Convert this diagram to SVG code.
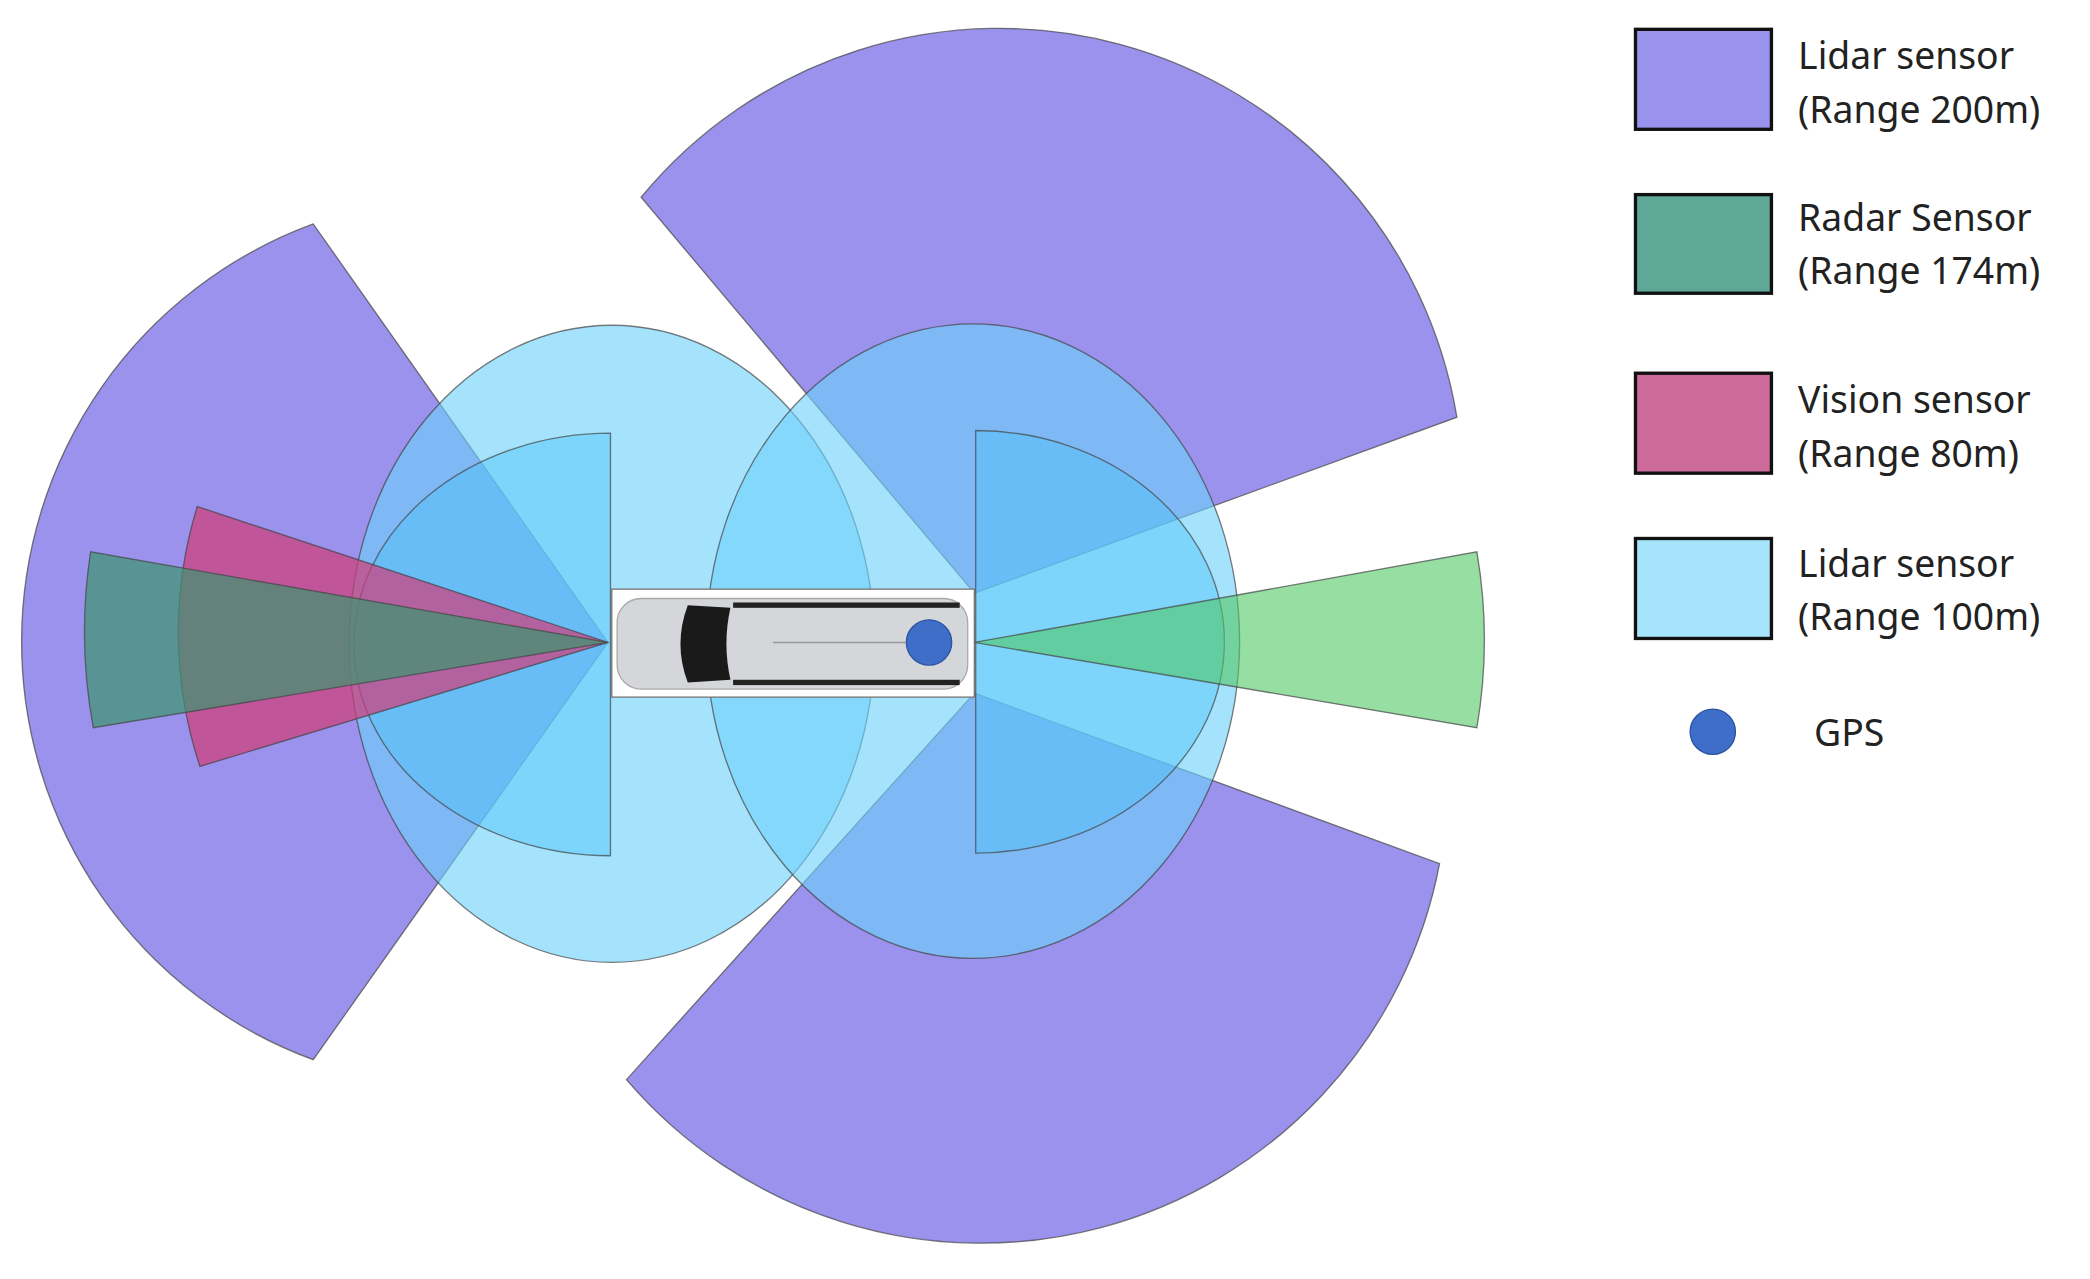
<svg xmlns="http://www.w3.org/2000/svg" width="2090" height="1279" viewBox="0 0 2090 1279">
<style>
.s{stroke:#444;stroke-width:1;stroke-opacity:0.7}
.pu{fill:rgb(120,110,230);fill-opacity:0.75}
.cy{fill:rgb(110,210,250);fill-opacity:0.62}
.cy2{fill:rgb(80,195,250);fill-opacity:0.45}
.rg{fill:rgb(60,150,110);fill-opacity:0.7}
.vr{fill:rgb(210,60,120);fill-opacity:0.7}
.gr{fill:rgb(80,200,100);fill-opacity:0.6}
.lt{font-family:"Noto Sans","Liberation Sans",sans-serif;font-size:28px;fill:#222}
.lb{stroke:#111;stroke-width:2.5}
</style>
<rect width="2090" height="1279" fill="#fff"/>
<g transform="scale(1.33291)">
<g id="coverage">
<path id="lidar200-left" class="pu s" d="M456,482 L235,168 A334 334 0 0 0 235,795 Z"/>
<path id="lidar200-top" class="pu s" d="M731,445 L481,148 A348 348 0 0 1 1093,313 Z"/>
<path id="lidar200-bottom" class="pu s" d="M731,520 L470,810 A350 350 0 0 0 1080,648 Z"/>
<ellipse id="lidar100-left" class="cy s" cx="459" cy="483" rx="197" ry="239"/>
<ellipse id="lidar100-right" class="cy s" cx="730" cy="481" rx="200" ry="238"/>
<path id="inner-left" class="cy2 s" d="M458,325 A192 158 0 0 0 458,642 Z"/>
<path id="inner-right" class="cy2 s" d="M732,323 A186 158 0 0 1 732,640 Z"/>
<path id="vision-left" class="vr s" d="M456,482 L148,380 A320 320 0 0 0 150,575 Z"/>
<path id="radar-left" class="rg s" d="M456,482 L68,414 A394 394 0 0 0 70,546 Z"/>
<path id="radar-right" class="gr s" d="M731,482 L1108,414 A390 390 0 0 1 1108,546 Z"/>
</g>
<g id="car">
<rect x="459" y="442" width="272" height="81" fill="#fff" stroke="#777" stroke-width="1"/>
<rect x="463" y="449" width="263" height="68" rx="18" fill="#d4d6da" stroke="#aaa"/>
<path d="M516,454 Q505,483 516,512 L548,510 Q542,483 548,456 Z" fill="#1a1a1a"/>
<rect x="550" y="452" width="170" height="4" fill="#222"/>
<rect x="550" y="510" width="170" height="4" fill="#222"/>
<line x1="580" y1="482" x2="680" y2="482" stroke="#999" stroke-width="1"/>
<circle cx="697" cy="482" r="17" fill="#3f6ec9" stroke="#2a55a0"/>
</g>
<g id="legend">
<rect class="lb" x="1227" y="22" width="102" height="75" fill="#9a93ee"/>
<text class="lt" x="1349" y="52">Lidar sensor</text>
<text class="lt" x="1349" y="92">(Range 200m)</text>
<rect class="lb" x="1227" y="146" width="102" height="74" fill="#5fa898"/>
<text class="lt" x="1349" y="173">Radar Sensor</text>
<text class="lt" x="1349" y="213">(Range 174m)</text>
<rect class="lb" x="1227" y="280" width="102" height="75" fill="#cc6a99"/>
<text class="lt" x="1349" y="310">Vision sensor</text>
<text class="lt" x="1349" y="350">(Range 80m)</text>
<rect class="lb" x="1227" y="404" width="102" height="75" fill="#a6e4fb"/>
<text class="lt" x="1349" y="433">Lidar sensor</text>
<text class="lt" x="1349" y="473">(Range 100m)</text>
<circle cx="1285" cy="549" r="17" fill="#3f6ec9" stroke="#2a55a0"/>
<text class="lt" x="1361" y="560">GPS</text>
</g>
</g>
</svg>
